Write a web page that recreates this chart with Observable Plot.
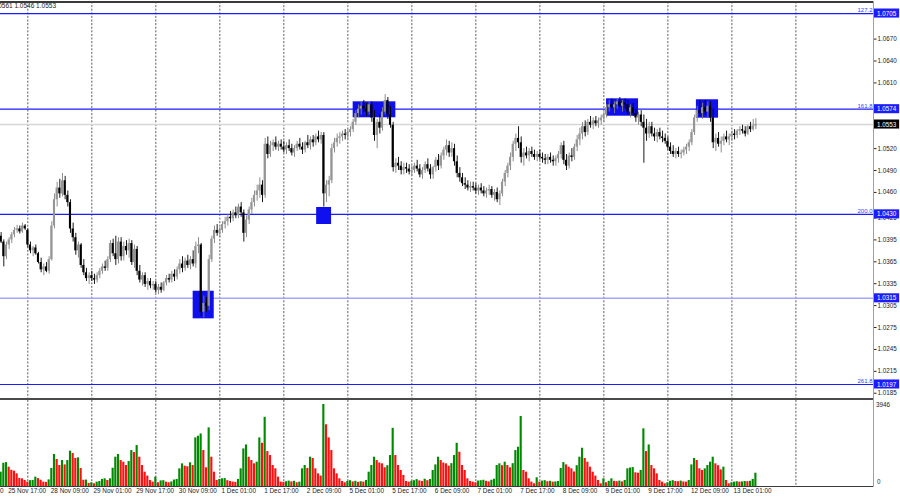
<!DOCTYPE html>
<html><head><meta charset="utf-8">
<script src="https://cdn.jsdelivr.net/npm/d3@7"></script>
<script src="https://cdn.jsdelivr.net/npm/@observablehq/plot@0.6"></script>
<style>
html,body{margin:0;padding:0;background:#fff;}
#wrap{position:relative;width:900px;height:500px;overflow:hidden;font-family:"Liberation Sans",Arial,sans-serif;}
#price{position:absolute;left:0;top:0;}
#vol{position:absolute;left:0;top:400px;}
.ln{position:absolute;}
#ohlc{position:absolute;right:844px;top:2px;font-size:6.5px;color:#222;white-space:nowrap;}
</style></head>
<body><div id="wrap">
<div id="price"></div><div id="vol"></div>
<div class="ln" style="left:0;top:1px;width:873px;height:1.5px;background:#3a3a3a"></div>
<div class="ln" style="left:0;top:397.5px;width:873px;height:2px;background:#4a4a4a"></div>
<div class="ln" style="left:0;top:485.5px;width:873px;height:1px;background:#3a3a3a"></div>
<div class="ln" style="left:872.5px;top:1px;width:1px;height:485.5px;background:#a0a0a0"></div>
<div id="ohlc"></div>
</div>
<script>
// EURUSD H1 candles, prices in pips above 1.0000 (e.g. 553 = 1.0553)
// bar index 0 = 28 Nov 00:00; first bar shown = 25 Nov 14:00 (index -10)
const firstBar = -10;
const O = [
400,392,372,388,395,402,408,410,406,414,
408,388,380,384,376,364,354,358,352,368,414,450,466,458,476,456,446,410,398,380,388,360,350,342,
346,342,340,346,352,358,356,368,390,376,368,392,372,386,380,390,364,382,352,340,346,334,338,332,
334,326,330,326,336,342,340,348,344,354,362,356,366,360,368,362,386,388,296,308,304,368,396,408,
404,408,416,420,426,424,432,428,440,432,404,422,436,446,456,462,470,456,526,512,524,528,522,526,
522,518,524,520,514,520,526,522,518,528,524,532,528,536,532,538,458,470,476,520,528,534,536,540,
538,542,546,556,568,574,578,574,570,580,562,538,556,548,570,586,566,552,494,500,496,490,494,492,
488,490,496,492,484,490,498,492,484,494,504,496,510,518,524,514,520,502,486,480,472,470,466,468,
466,462,466,462,458,462,464,456,460,450,458,474,486,496,508,526,534,528,508,514,510,516,512,508,
512,508,506,504,508,504,502,506,512,524,504,496,510,508,522,532,540,550,542,556,552,558,554,558,
562,566,576,580,576,580,584,578,582,580,570,576,568,562,566,556,548,540,550,540,536,542,536,534,
530,522,516,512,516,512,514,518,522,528,542,562,572,568,576,570,578,562,528,534,526,530,536,532,
536,540,538,544,546,544,540,550,546,551];
const H = [
405,395,392,398,405,412,415,414,418,416,
410,392,386,388,378,370,362,364,372,420,458,474,478,486,482,462,450,418,404,392,390,368,356,350,
352,348,350,356,362,366,372,394,396,400,398,398,392,394,396,394,388,386,360,350,350,342,342,338,
338,334,336,338,346,348,352,354,358,368,372,370,374,372,380,392,398,390,318,316,374,400,414,416,
412,420,426,430,434,436,440,444,446,436,428,440,452,462,470,480,476,534,536,530,532,536,530,532,
530,528,532,526,524,530,534,528,530,538,536,538,540,544,542,542,476,482,526,534,540,542,544,546,
546,550,560,572,580,584,586,582,584,584,572,560,566,576,594,590,578,556,506,508,502,500,500,498,
496,500,504,498,494,502,506,498,496,508,512,514,522,532,530,528,526,510,494,486,480,476,474,474,
472,470,472,468,466,470,468,464,466,462,478,490,500,514,530,540,550,536,520,522,520,522,518,516,
518,514,512,512,514,510,510,516,528,530,512,514,520,526,538,548,556,558,560,564,562,564,562,566,
570,580,586,588,584,588,590,586,588,586,580,582,574,570,572,566,560,556,556,548,546,548,544,540,
536,528,524,520,522,518,522,526,532,546,566,578,586,582,586,584,584,574,540,542,536,540,544,540,
544,546,546,550,552,550,552,556,560,561];
const L = [
390,358,368,382,390,398,404,403,404,408,
384,376,372,374,362,350,346,350,348,366,410,440,452,454,450,440,404,392,374,370,356,346,338,334,
338,334,336,342,348,352,352,364,372,360,362,366,366,374,370,360,356,346,336,332,330,326,328,326,
322,320,322,324,332,336,336,338,340,348,350,352,356,354,358,356,376,290,288,296,298,364,390,400,
398,404,410,414,418,420,424,424,426,392,398,416,430,440,448,452,446,452,506,508,516,518,516,518,
514,512,516,510,508,516,518,512,514,520,518,522,524,528,526,440,446,454,472,514,522,526,530,532,
532,536,542,552,562,566,570,564,566,556,530,520,540,544,566,560,548,488,486,490,484,484,486,484,
482,486,488,480,478,486,488,478,478,488,490,492,504,510,508,508,496,480,474,468,464,462,460,462,
458,456,458,454,452,456,452,448,446,442,454,468,480,490,502,516,520,500,496,506,502,508,504,502,
504,500,498,498,500,496,496,500,506,498,490,492,502,504,516,524,532,536,538,548,546,550,548,552,
556,562,570,574,568,574,576,570,574,566,562,564,556,552,550,500,530,534,536,530,528,532,528,526,
518,512,508,506,508,506,510,512,516,524,538,556,564,560,566,562,556,520,516,522,514,524,528,524,
530,532,534,538,540,536,538,542,544,546];
const C = [
392,372,388,395,402,408,410,406,414,410,
388,380,384,376,364,354,358,352,368,414,450,466,458,476,456,446,410,398,380,388,360,350,342,346,
342,340,346,352,358,356,368,390,376,368,392,372,386,380,390,364,382,352,340,346,334,338,332,334,
326,330,326,336,342,340,348,344,354,362,356,366,360,368,362,386,388,296,308,304,368,396,408,404,
408,416,420,426,424,432,428,440,432,404,422,436,446,456,462,470,456,526,512,524,528,522,526,522,
518,524,520,514,520,526,522,518,528,524,532,528,536,532,538,458,470,476,520,528,534,536,540,538,
542,546,556,568,574,578,574,570,580,562,538,556,548,570,586,566,552,494,500,496,490,494,492,488,
490,496,492,484,490,498,492,484,494,504,496,510,518,524,514,520,502,486,480,472,470,466,468,466,
462,466,462,458,462,464,456,460,450,458,474,486,496,508,526,534,528,508,514,510,516,512,508,512,
508,506,504,508,504,502,506,512,524,504,496,510,508,522,532,540,550,542,556,552,558,554,558,562,
566,576,580,576,580,584,578,582,580,570,576,568,562,566,556,548,540,550,540,536,542,536,534,530,
522,516,512,516,512,514,518,522,528,542,562,572,568,576,570,578,562,528,534,526,530,536,532,536,
540,538,544,546,544,540,550,546,551,553];
const V = [
690,1120,1150,930,780,740,610,390,370,290,
210,280,290,450,380,300,210,200,320,870,1540,1300,1010,1250,1040,1250,1700,1590,1350,1380,870,300,310,150,
180,130,210,240,340,370,290,370,880,1410,1540,1250,1170,1010,1200,1730,1635,1970,1410,1010,690,500,290,210,
450,180,270,280,210,180,220,310,340,850,1090,980,950,1140,1010,2340,2420,2530,1730,900,2820,1410,690,290,
340,370,380,280,240,210,200,340,850,1810,2000,1410,1250,1090,1170,2340,2080,3330,1680,1490,1010,850,450,210,
200,230,260,220,250,180,210,850,1010,870,1410,1350,850,610,500,3946,2970,2340,1730,850,610,370,240,180,
240,280,220,250,200,230,210,290,690,1010,1410,1250,1130,1090,900,1000,1490,2800,1490,1010,770,530,240,210,
250,280,330,270,240,350,280,340,770,1040,1410,1250,1130,1090,980,1100,1490,2080,1650,1010,770,370,240,210,
180,260,280,300,250,220,300,350,1010,1090,1000,1170,1010,900,1100,1730,1890,3370,770,690,370,210,130,420,
210,260,280,230,250,210,220,240,870,1150,1040,930,850,700,1000,1410,1840,1350,1170,930,690,500,290,130,
370,180,250,370,250,230,260,220,290,850,890,910,660,640,770,2775,1680,2000,1010,850,610,290,210,130,
180,250,280,240,230,260,220,210,290,1040,1350,1250,850,770,850,1010,1170,1410,1090,1000,800,930,290,130,
180,210,230,210,220,240,230,250,340,640];

// visible window in bar units
const viewBars = [-10.24, 317.1];
// day separators (bar index of 00:00)
const daySep = [0,24,48,72,96,120,144,168,192,216,240,264,288];
// time axis labels
const timeLabelBars = [-23,-7,9,25,41,57,73,89,105,121,137,153,169,185,201,217,233,249,265];
const timeLabelText = ["25 Nov 01:00","25 Nov 17:00","28 Nov 09:00","29 Nov 01:00","29 Nov 17:00","30 Nov 09:00","1 Dec 01:00","1 Dec 17:00","2 Dec 09:00","5 Dec 01:00","5 Dec 17:00","6 Dec 09:00","7 Dec 01:00","7 Dec 17:00","8 Dec 09:00","9 Dec 01:00","9 Dec 17:00","12 Dec 09:00","13 Dec 01:00"];
// price axis ticks (those hidden behind the level tags are left out)
const priceTicks = [1.0670,1.0640,1.0610,1.0520,1.0490,1.0460,1.0425,1.0395,1.0365,1.0335,1.0305,1.0275,1.0245,1.0215,1.0185];
const priceDomain = [1.01778, 1.07208];
// Fibonacci levels
const fibLevels = [1.0705, 1.0574, 1.0430, 1.0197];
const fibNames = ["127.2", "161.8", "200.0", "261.8"];
const supportLevels = [1.0315];
// marker rectangles
const boxBarStart = [62.0, 108.3, 122.0, 217.0, 250.7];
const boxBarEnd   = [69.9, 113.9, 138.0, 229.0, 259.0];
const boxLow  = [1.02869, 1.04161, 1.05622, 1.05644, 1.05617];
const boxHigh = [1.03247, 1.04394, 1.05841, 1.05882, 1.05869];

const toPrice = v => 1 + v / 10000;
const bars = C.map((c, k) => ({
  i: firstBar + k, o: toPrice(O[k]), h: toPrice(H[k]), l: toPrice(L[k]), c: toPrice(c), v: V[k],
  up: k === 0 ? true : V[k] > V[k - 1]
}));
const last = bars[bars.length - 1];
const fmt = d3.format(".4f");
document.getElementById("ohlc").textContent = `EURUSD,H1  ${fmt(last.o)} ${fmt(last.h)} ${fmt(last.l)} ${fmt(last.c)}`;

const blue = "#1c1cff";
const bullBody = "#959595", bullWick = "#808080", bear = "#000000";
const boxes = boxBarStart.map((s, k) => ({x1: s, x2: boxBarEnd[k], y1: boxLow[k], y2: boxHigh[k]}));
const xMax = viewBars[1];
const tagPad = 0.00062;
const tags = [
  ...fibLevels.map(p => ({p, fill: blue})),
  ...supportLevels.map(p => ({p, fill: blue})),
  {p: last.c, fill: "#000"}
];
const fibData = fibLevels.map((p, k) => ({p, name: fibNames[k]}));
const halfW = 0.4;

const pricePlot = Plot.plot({
  width: 900, height: 398,
  marginLeft: 0, marginRight: 27, marginTop: 1.5, marginBottom: 0,
  x: {domain: viewBars, axis: null},
  y: {domain: priceDomain, axis: "right", ticks: priceTicks, tickFormat: fmt, tickSize: 2.5, tickPadding: 1.5, label: null},
  color: {type: "identity"},
  style: {fontFamily: "Liberation Sans", fontSize: "6.3px", color: "#222", background: "transparent", overflow: "visible"},
  marks: [
    Plot.ruleX(daySep, {x: d => d, stroke: "#4a4a4a", strokeWidth: 0.9, strokeDasharray: "2,1.6"}),
    Plot.ruleY([last.c], {y: d => d, stroke: "#d6d6d6", strokeWidth: 1.5}),
    Plot.ruleY(supportLevels, {y: d => d, stroke: "#a6a6ff", strokeWidth: 1.6}),
    Plot.ruleY(fibLevels, {y: d => d, stroke: blue, strokeWidth: 1.2}),
    Plot.rect(boxes, {x1: "x1", x2: "x2", y1: "y1", y2: "y2", fill: "#1010ee"}),
    Plot.ruleX(bars, {x: "i", y1: "l", y2: "h", stroke: d => d.c >= d.o ? bullWick : bear, strokeWidth: 0.9}),
    Plot.rect(bars, {x1: d => d.i - halfW, x2: d => d.i + halfW, y1: d => Math.min(d.o, d.c), y2: d => Math.max(d.o, d.c), fill: d => d.c >= d.o ? bullBody : bear}),
    Plot.text(fibData, {x: () => xMax, y: "p", text: "name", textAnchor: "end", dx: -1, dy: -3.5, fill: "#3a3aff", fontSize: 6}),
    Plot.rect(tags, {x1: () => xMax + 0.2, x2: () => xMax + 9.8, y1: d => d.p - tagPad, y2: d => d.p + tagPad, fill: "fill"}),
    Plot.text(tags, {x: () => xMax, y: "p", text: d => fmt(d.p), textAnchor: "start", dx: 3.5, fill: "#fff", fontSize: 6.3})
  ]
});
document.getElementById("price").appendChild(pricePlot);

const maxVol = d3.max(V);
const volPlot = Plot.plot({
  width: 900, height: 100,
  marginLeft: 0, marginRight: 27, marginTop: 0, marginBottom: 14,
  x: {domain: viewBars, axis: null},
  y: {domain: [0, maxVol * 86 / 82], axis: null},
  color: {type: "identity"},
  style: {fontFamily: "Liberation Sans", fontSize: "6.4px", color: "#222", background: "transparent", overflow: "visible"},
  marks: [
    Plot.ruleX(daySep, {x: d => d, stroke: "#4a4a4a", strokeWidth: 0.9, strokeDasharray: "2,1.6"}),
    Plot.rectY(bars, {x1: d => d.i - halfW, x2: d => d.i + halfW, y: "v", fill: d => d.up ? "#008a00" : "#ff0f0f"}),
    Plot.text([maxVol], {x: () => xMax, y: d => d, text: d => String(d), textAnchor: "start", dx: 2.5, fill: "#222", fontSize: 6.3}),
    Plot.text([0], {x: () => xMax, y: d => d, text: d => String(d), textAnchor: "start", dx: 3.5, dy: -5, fill: "#333", fontSize: 6.3}),
    Plot.text(timeLabelBars, {x: d => d, text: (d, k) => timeLabelText[k], frameAnchor: "bottom", dy: 6.5, dx: -1, textAnchor: "start", fill: "#222", fontSize: 6.4})
  ]
});
document.getElementById("vol").appendChild(volPlot);
</script>
</body></html>
